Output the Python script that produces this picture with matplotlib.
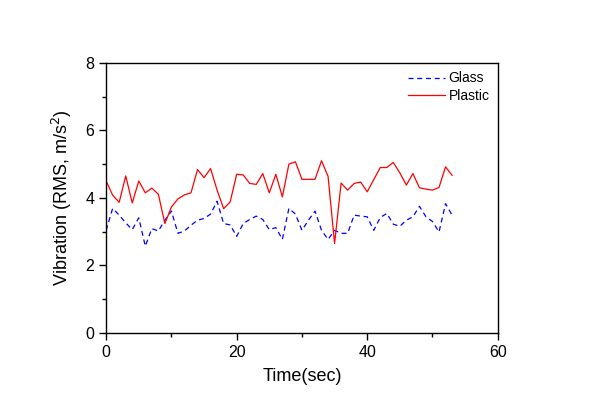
import matplotlib
matplotlib.use('Agg')
import matplotlib.pyplot as plt
from matplotlib.ticker import MultipleLocator

plt.rcParams['font.family'] = ['Liberation Sans', 'DejaVu Sans']

# Time in seconds, one sample per second
time_sec = list(range(0, 54))

# RMS vibration (m/s^2)
glass = [3.04, 3.69, 3.49, 3.26, 3.06, 3.41, 2.57, 3.09, 3.02, 3.34,
         3.61, 2.95, 3.02, 3.19, 3.34, 3.39, 3.52, 3.90, 3.24, 3.20,
         2.86, 3.24, 3.36, 3.46, 3.36, 3.06, 3.12, 2.77, 3.69, 3.52,
         3.04, 3.34, 3.61, 3.04, 2.77, 3.04, 2.95, 2.95, 3.49, 3.46,
         3.44, 3.04, 3.42, 3.54, 3.22, 3.16, 3.34, 3.44, 3.75, 3.44,
         3.30, 2.99, 3.83, 3.49]
plastic = [4.50, 4.08, 3.87, 4.65, 3.85, 4.50, 4.15, 4.29, 4.11, 3.24,
           3.73, 3.97, 4.09, 4.15, 4.84, 4.60, 4.87, 4.23, 3.68, 3.88,
           4.70, 4.68, 4.43, 4.40, 4.72, 4.15, 4.70, 4.03, 5.00, 5.07,
           4.55, 4.55, 4.55, 5.10, 4.64, 2.65, 4.44, 4.23, 4.43, 4.47,
           4.18, 4.54, 4.90, 4.90, 5.05, 4.74, 4.38, 4.72, 4.30, 4.26,
           4.23, 4.31, 4.92, 4.67]

fig = plt.figure(figsize=(6.1, 4.11), dpi=100)
ax = fig.add_axes([0.174, 0.19, 0.642, 0.657])

ax.plot(time_sec, glass, color='#0000ff', linewidth=0.9,
        linestyle=(0, (4, 3)), label='Glass')
ax.plot(time_sec, plastic, color='#ff0000', linewidth=0.9, label='Plastic')

ax.set_xlim(0, 60)
ax.set_ylim(0, 8)
ax.xaxis.set_major_locator(MultipleLocator(20))
ax.xaxis.set_minor_locator(MultipleLocator(10))
ax.yaxis.set_major_locator(MultipleLocator(2))
ax.yaxis.set_minor_locator(MultipleLocator(1))
ax.tick_params(which='major', direction='out', length=5, width=1, labelsize=11.5)
ax.tick_params(which='minor', direction='out', length=3, width=1)
for s in ax.spines.values():
    s.set_linewidth(1)

ax.set_xlabel('Time(sec)', fontsize=13, labelpad=6)
ax.set_ylabel('Vibration (RMS, m/s$^2$)', fontsize=13, labelpad=8)

ax.legend(loc='upper right', frameon=False, fontsize=10, handlelength=2.7,
          handletextpad=0.25, labelspacing=0.25, borderaxespad=0.6,
          bbox_to_anchor=(1.015, 1.02))

fig.savefig('out.png', dpi=100)
